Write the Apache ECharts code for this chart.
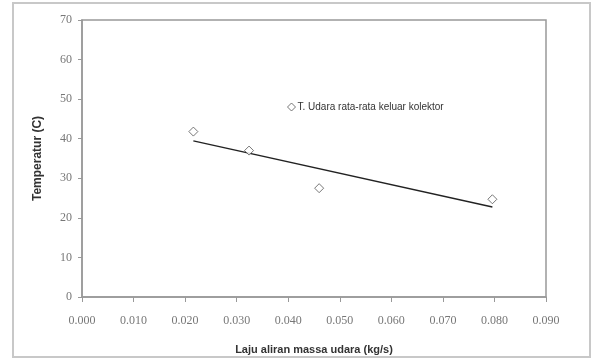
<!DOCTYPE html>
<html>
<head>
<meta charset="utf-8">
<script src="https://cdn.jsdelivr.net/npm/echarts@6/dist/echarts.min.js"></script>
<style>
  html, body { margin: 0; padding: 0; background: #fff; }
  #chart { width: 595px; height: 360px; }
</style>
</head>
<body>
<div id="chart"></div>
<script>
// laju aliran massa udara (kg/s) vs temperatur rata-rata keluar kolektor
var massFlow = [0.0216, 0.0324, 0.0460, 0.0796];
var tempOut = [41.8, 37.0, 27.5, 24.7];
var seriesName = 'T. Udara rata-rata keluar kolektor';

var chart = echarts.init(document.getElementById('chart'));

var points = massFlow.map(function (x, i) { return [x, tempOut[i]]; });

// linear trendline (least squares) like the Excel one
var n = massFlow.length;
var mx = massFlow.reduce(function (a, b) { return a + b; }, 0) / n;
var my = tempOut.reduce(function (a, b) { return a + b; }, 0) / n;
var sxy = 0, sxx = 0;
for (var i = 0; i < n; i++) {
  sxy += (massFlow[i] - mx) * (tempOut[i] - my);
  sxx += (massFlow[i] - mx) * (massFlow[i] - mx);
}
var slope = sxy / sxx;
var icpt = my - slope * mx;
var xMin = Math.min.apply(null, massFlow);
var xMax = Math.max.apply(null, massFlow);
var trend = [[xMin, icpt + slope * xMin], [xMax, icpt + slope * xMax]];

var labelFont = { fontFamily: 'Liberation Serif', fontSize: 12, color: '#777' };

var option = {
  animation: false,
  graphic: [{
    type: 'rect',
    shape: { x: 13, y: 3, width: 577, height: 354 },
    style: { fill: 'none', stroke: '#c8c8c8', lineWidth: 2 },
    silent: true
  }],
  legend: {
    data: [seriesName],
    left: 282,
    top: 97,
    itemWidth: 8,
    itemHeight: 8,
    itemGap: 4,
    itemStyle: { color: '#fff', borderColor: '#555', borderWidth: 1 },
    textStyle: { fontFamily: 'Liberation Sans', fontSize: 10, color: '#333', padding: [0, 0, 0, -3] }
  },
  grid: {
    left: 82,
    right: 49,
    top: 20,
    bottom: 62,
    show: true,
    borderColor: '#999',
    borderWidth: 1.5
  },
  xAxis: {
    type: 'value',
    min: 0,
    max: 0.09,
    interval: 0.01,
    name: 'Laju aliran massa udara (kg/s)',
    nameLocation: 'middle',
    nameGap: 47,
    nameTextStyle: { fontFamily: 'Liberation Sans', fontSize: 11, fontWeight: 'bold', color: '#333' },
    axisLine: { lineStyle: { color: '#999', width: 1.5 } },
    axisTick: { inside: false, length: 5, lineStyle: { color: '#999' } },
    axisLabel: Object.assign({ margin: 18, formatter: function (v) { return v.toFixed(3); } }, labelFont),
    splitLine: { show: false }
  },
  yAxis: {
    type: 'value',
    min: 0,
    max: 70,
    interval: 10,
    name: 'Temperatur (C)',
    nameLocation: 'middle',
    nameGap: 38,
    nameTextStyle: { fontFamily: 'Liberation Sans', fontSize: 12, fontWeight: 'bold', color: '#333' },
    axisLine: { show: true, lineStyle: { color: '#999', width: 1.5 } },
    axisTick: { show: true, inside: false, length: 4, lineStyle: { color: '#999' } },
    axisLabel: Object.assign({ margin: 10 }, labelFont),
    splitLine: { show: false }
  },
  series: [{
    name: seriesName,
    type: 'scatter',
    data: points,
    symbol: 'diamond',
    symbolSize: 9,
    itemStyle: { color: '#fff', borderColor: '#555', borderWidth: 1 },
    z: 3
  }, {
    name: 'trend',
    type: 'line',
    data: trend,
    showSymbol: false,
    lineStyle: { color: '#222', width: 1.3 },
    z: 2
  }]
};

chart.setOption(option);
</script>
</body>
</html>
